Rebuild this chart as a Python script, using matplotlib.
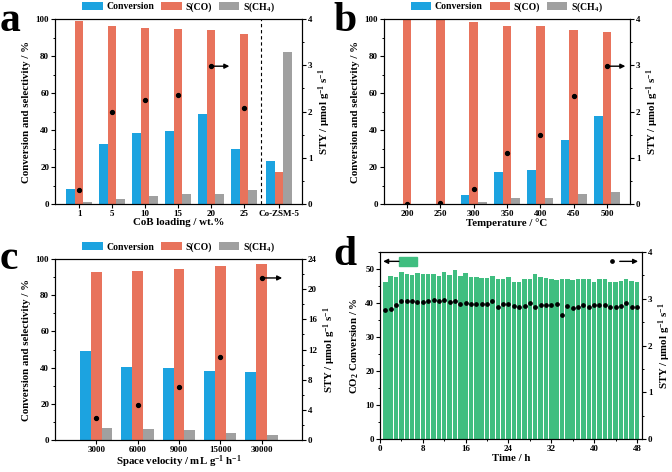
import matplotlib
matplotlib.use("Agg")
import matplotlib.pyplot as plt
import numpy as np
from matplotlib.patches import Rectangle
from matplotlib.ticker import MultipleLocator

plt.rcParams['font.family'] = ['Liberation Serif', 'DejaVu Serif']
plt.rcParams['font.weight'] = 'bold'
plt.rcParams['mathtext.fontset'] = 'custom'
plt.rcParams['mathtext.rm'] = 'Liberation Serif:bold'
plt.rcParams['mathtext.bf'] = 'Liberation Serif:bold'
plt.rcParams['mathtext.it'] = 'Liberation Serif:bold'
plt.rcParams['axes.linewidth'] = 0.8

# ---------------- data ----------------
a_labels = ['1', '5', '10', '15', '20', '25', 'Co-ZSM-5']
a_pos = [0, 1, 2, 3, 4, 5, 6.05]
a_conv = [8.3, 32.3, 38.4, 39.6, 48.4, 30.0, 23.3]
a_sco = [98.8, 96.3, 95.1, 94.4, 94.0, 92.0, 17.3]
a_sch4 = [1.0, 2.8, 4.4, 5.2, 5.6, 7.6, 82.3]
a_sty = [0.31, 2.0, 2.24, 2.35, 2.98, 2.08]

b_labels = ['200', '250', '300', '350', '400', '450', '500']
b_conv = [0, 0, 4.9, 17.4, 18.4, 34.4, 47.4]
b_sco = [100, 100, 98.6, 96.4, 96.4, 94.1, 92.9]
b_sch4 = [0, 0, 1.2, 3.2, 3.2, 5.6, 6.7]
b_sty = [0.0, 0.02, 0.32, 1.1, 1.5, 2.34, 2.98]

c_labels = ['3000', '6000', '9000', '15000', '30000']
c_conv = [49.0, 40.3, 39.8, 38.3, 37.8]
c_sco = [93.0, 93.6, 94.6, 96.0, 97.3]
c_sch4 = [6.8, 6.2, 5.3, 3.8, 2.5]
c_sty = [2.9, 4.7, 7.0, 11.0, 21.5]

d_time = list(range(1, 49))
d_conv = [46.3, 48.0, 47.6, 49.0, 48.6, 48.2, 48.7, 48.5, 48.4, 48.4,
          47.9, 49.1, 48.2, 49.6, 48.0, 48.7, 47.6, 47.6, 47.3, 47.3,
          48.0, 47.2, 47.2, 47.6, 46.3, 46.3, 47.0, 47.0, 48.6, 47.7,
          47.3, 47.1, 46.9, 47.2, 47.1, 46.8, 47.0, 47.0, 47.0, 46.3,
          47.0, 47.0, 46.3, 46.3, 46.6, 47.0, 46.4, 46.3]
d_sty = [2.75, 2.78, 2.86, 2.96, 2.95, 2.95, 2.92, 2.94, 2.95, 2.98,
         2.95, 2.98, 2.93, 2.95, 2.88, 2.90, 2.88, 2.88, 2.88, 2.88,
         2.96, 2.83, 2.88, 2.88, 2.85, 2.82, 2.85, 2.90, 2.82, 2.87,
         2.87, 2.86, 2.89, 2.65, 2.85, 2.80, 2.82, 2.86, 2.82, 2.86,
         2.86, 2.86, 2.82, 2.82, 2.85, 2.90, 2.83, 2.83]

C_BLUE = '#1CA3E0'
C_RED = '#E8735C'
C_GRAY = '#A0A0A0'
C_GREEN = '#40BE80'

TICK_FS = 6.5
LAB_FS = 7.8
LEG_FS = 7
BW = 0.26

fig = plt.figure(figsize=(6.72, 4.72), dpi=100)


def style_axes(ax):
    ax.tick_params(direction='out', length=3, width=0.8, labelsize=TICK_FS, pad=1.2)
    ax.tick_params(which='minor', direction='out', length=1.6, width=0.7)
    for lab in ax.get_xticklabels() + ax.get_yticklabels():
        lab.set_fontweight('bold')


def group_panel(rect, pos, labels, conv, sco, sch4, sty, xlim, ymax2, ystep2,
                xlabel, arrow_idx, arrow_len):
    ax = fig.add_axes(rect)
    pos = np.asarray(pos, dtype=float)
    ax.bar(pos - BW, conv, BW, color=C_BLUE, label='Conversion')
    ax.bar(pos, sco, BW, color=C_RED, label='S(CO)')
    ax.bar(pos + BW, sch4, BW, color=C_GRAY, label='S(CH$_4$)')
    ax.set_xlim(*xlim)
    ax.set_ylim(0, 100)
    ax.yaxis.set_major_locator(MultipleLocator(20))
    ax.yaxis.set_minor_locator(MultipleLocator(10))
    ax.set_xticks(pos)
    ax.set_xticklabels(labels)
    ax.set_xlabel(xlabel, fontsize=LAB_FS, fontweight='bold', labelpad=0)
    ax.set_ylabel('Conversion and selectivity / %', fontsize=LAB_FS,
                  fontweight='bold', labelpad=3)
    style_axes(ax)
    ax2 = ax.twinx()
    n = len(sty)
    ax2.plot(pos[:n], sty, linestyle='none', marker='o', markersize=2.8,
             color='black')
    ax2.set_ylim(0, ymax2)
    ax2.yaxis.set_major_locator(MultipleLocator(ystep2))
    ax2.yaxis.set_minor_locator(MultipleLocator(ystep2 / 2))
    ax2.set_ylabel('STY / μmol g$^{-1}$ s$^{-1}$', fontsize=LAB_FS,
                   fontweight='bold', labelpad=3)
    style_axes(ax2)
    x0 = pos[arrow_idx]
    y0 = sty[arrow_idx]
    ax2.annotate('', xy=(x0 + arrow_len, y0), xytext=(x0, y0),
                 arrowprops=dict(arrowstyle='-|>', color='black', lw=1.0,
                                 mutation_scale=7, shrinkA=0, shrinkB=0))
    ax.legend(loc='lower center', bbox_to_anchor=(0.5, 1.0), ncol=3,
              frameon=False, handlelength=2.1,
              handleheight=0.8, columnspacing=0.7, handletextpad=0.4,
              borderaxespad=0.15, prop={'weight': 'bold', 'size': LEG_FS})
    return ax, ax2


# Panel a
axa, axa2 = group_panel([0.0818, 0.5678, 0.3676, 0.3919], a_pos, a_labels,
                        a_conv, a_sco, a_sch4, a_sty, (-0.73, 6.75), 4, 1,
                        'CoB loading / wt.%', 4, 0.55)
axa.axvline(5.5, color='black', linestyle=(0, (3, 2.5)), lw=0.8)

# Panel b
group_panel([0.571, 0.5678, 0.3665, 0.3919], list(range(7)), b_labels,
            b_conv, b_sco, b_sch4, b_sty, (-0.7, 6.69), 4, 1,
            'Temperature / °C', 6, 0.55)

# Panel c
group_panel([0.0818, 0.0680, 0.3676, 0.383], list(range(5)), c_labels,
            c_conv, c_sco, c_sch4, c_sty, (-1.0, 4.98), 24, 4,
            'Space velocity / mL g$^{-1}$ h$^{-1}$', 4, 0.5)

# Panel d
axd = fig.add_axes([0.5655, 0.0699, 0.3899, 0.3962])
axd.bar(d_time, d_conv, 0.84, color=C_GREEN)
axd.set_xlim(0, 48.95)
axd.set_ylim(0, 55)
axd.xaxis.set_major_locator(MultipleLocator(8))
axd.xaxis.set_minor_locator(MultipleLocator(4))
axd.yaxis.set_major_locator(MultipleLocator(10))
axd.yaxis.set_minor_locator(MultipleLocator(5))
axd.set_xlabel('Time / h', fontsize=LAB_FS, fontweight='bold', labelpad=1)
axd.set_ylabel('CO$_2$ Conversion / %', fontsize=LAB_FS, fontweight='bold',
               labelpad=3)
style_axes(axd)
axd2 = axd.twinx()
axd2.plot(d_time, d_sty, linestyle='none', marker='o', markersize=2.4,
          color='black')
axd2.set_ylim(0, 4)
axd2.yaxis.set_major_locator(MultipleLocator(1))
axd2.yaxis.set_minor_locator(MultipleLocator(0.5))
axd2.set_ylabel('STY / μmol g$^{-1}$ s$^{-1}$', fontsize=LAB_FS,
                fontweight='bold', labelpad=3)
style_axes(axd2)
# legend-like markers in panel d
axd.add_patch(Rectangle((0.074, 0.925), 0.068, 0.048,
                        transform=axd.transAxes, color=C_GREEN))
axd.annotate('', xy=(0.012, 0.95), xytext=(0.072, 0.95),
             xycoords='axes fraction',
             arrowprops=dict(arrowstyle='-|>', color='black', lw=1.0,
                             mutation_scale=7, shrinkA=0, shrinkB=0))
axd.plot([0.886], [0.95], marker='o', markersize=2.4, color='black',
         transform=axd.transAxes, clip_on=False)
axd.annotate('', xy=(0.985, 0.95), xytext=(0.915, 0.95),
             xycoords='axes fraction',
             arrowprops=dict(arrowstyle='-|>', color='black', lw=1.0,
                             mutation_scale=7, shrinkA=0, shrinkB=0))

# Panel letters
for letter, x, y in [('a', 0.0, 0.995), ('b', 0.496, 0.995),
                     ('c', 0.0, 0.492), ('d', 0.496, 0.5)]:
    fig.text(x, y, letter, fontsize=30, fontweight='bold', va='top',
             ha='left')

fig.savefig('out.png', dpi=100)
